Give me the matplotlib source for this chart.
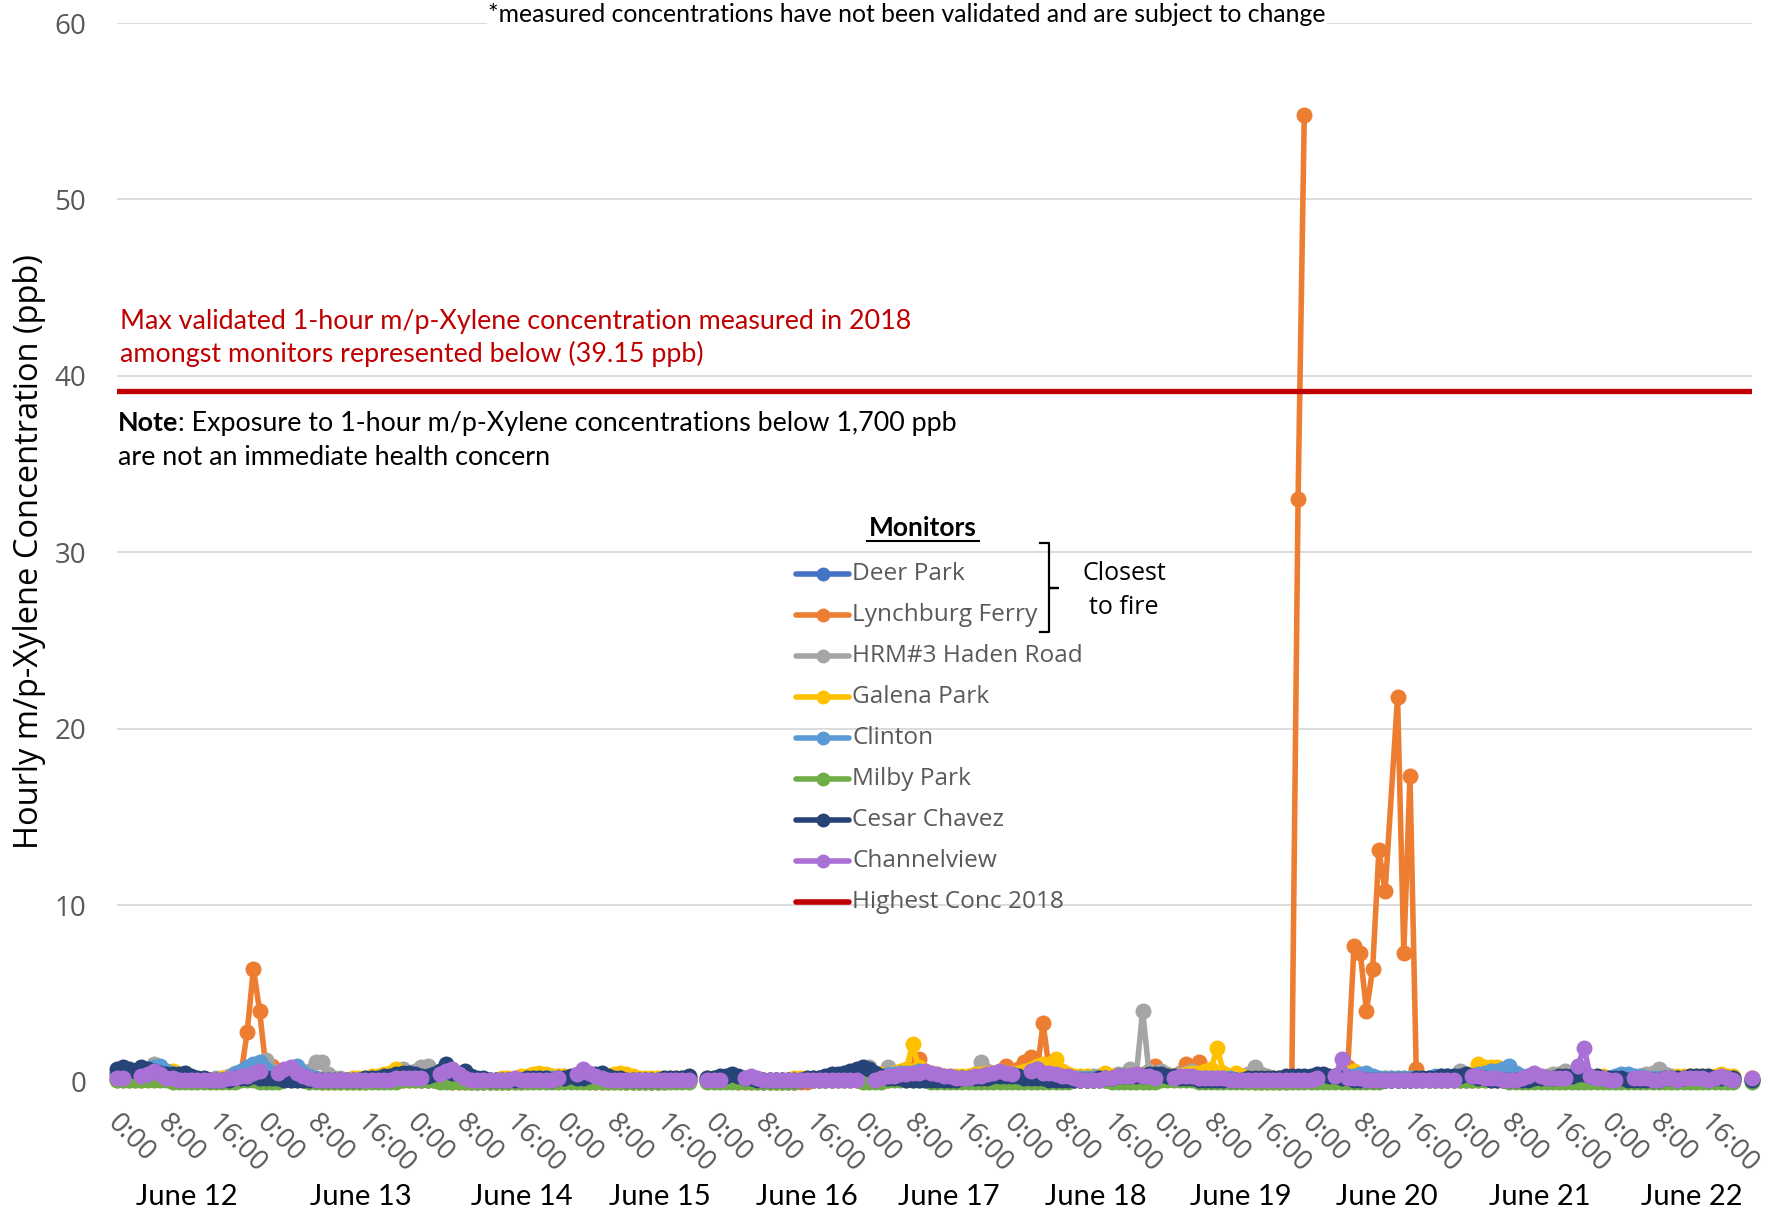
#!/usr/bin/env python3
# Hourly m/p-Xylene, June 12-22 - recreation of the Excel line chart
import numpy as np
import matplotlib
matplotlib.use('Agg')
import matplotlib.pyplot as plt
from matplotlib.lines import Line2D
from matplotlib import transforms

nan = np.nan

# ---- data (hourly, June 12 0:00 ... June 22 23:00, nan = no data) ----
monitors = ['Deer Park', 'Lynchburg Ferry', 'HRM#3 Haden Road', 'Galena Park',
            'Clinton', 'Milby Park', 'Cesar Chavez', 'Channelview']
colors = ['#4472C4', '#ED7D31', '#A5A5A5', '#FFC000',
          '#5B9BD5', '#70AD47', '#264478', '#A970D6']

deer_park = [
    0.4, 0.4, 0.3, 0.3, 0.3, 0.3, 0.3, 0.3, 0.2, 0.2, 0.2, 0.2, 0.1, 0.1, 0.1, 0.1, 0.1, 0.1, 0.1, 0.2, 0.3, 0.4, 0.5, 0.6,
    0.4, 0.3, 0.3, 0.2, 0.2, 0.2, 0.2, 0.1, 0.1, 0.1, 0.1, 0.1, 0.1, 0.1, 0.1, 0.1, 0.1, 0.1, 0.1, 0.1, 0.1, 0.1, 0.2, 0.2,
    0.2, 0.1, 0.1, 0.1, 0.1, 0.1, 0.1, 0.1, 0.1, 0.0, 0.0, 0.0, 0.0, 0.0, 0.0, 0.0, 0.1, 0.1, 0.1, 0.1, 0.1, 0.1, 0.1, 0.1,
    0.1, 0.1, 0.1, 0.1, 0.1, 0.1, 0.1, 0.1, 0.1, 0.1, 0.0, 0.0, 0.0, 0.0, 0.0, 0.0, 0.0, 0.1, 0.1, 0.1, 0.1, nan, nan, 0.1,
    0.1, 0.1, 0.1, 0.1, 0.1, 0.1, 0.1, 0.1, 0.0, 0.0, 0.0, 0.0, 0.0, 0.0, 0.1, 0.1, 0.1, 0.1, 0.1, 0.1, 0.2, 0.2, 0.2, 0.2,
    0.2, 0.2, 0.2, 0.3, 0.3, 0.3, 0.3, 0.3, 0.3, 0.2, 0.2, 0.2, 0.1, 0.1, 0.1, 0.1, 0.1, 0.1, 0.1, 0.2, 0.2, 0.2, 0.2, 0.2,
    0.3, 0.3, 0.4, 0.4, 0.5, 0.4, 0.3, 0.3, 0.2, 0.2, 0.1, 0.1, 0.1, 0.1, 0.1, 0.1, 0.1, 0.1, 0.2, 0.2, 0.2, 0.2, 0.2, 0.2,
    0.2, 0.2, 0.2, 0.2, 0.2, 0.2, 0.2, 0.1, 0.1, 0.1, 0.1, 0.1, 0.1, 0.1, 0.1, 0.1, 0.1, 0.1, 0.1, 0.1, 0.1, 0.1, 0.1, 0.1,
    0.1, 0.1, 0.1, 0.1, 0.2, 0.2, 0.2, 0.2, 0.2, 0.2, 0.2, 0.1, 0.1, 0.1, 0.1, 0.1, 0.1, 0.1, 0.1, 0.1, 0.1, 0.1, 0.1, 0.1,
    0.1, 0.1, 0.1, 0.2, 0.2, 0.2, 0.2, 0.2, 0.2, 0.2, 0.1, 0.1, 0.1, 0.1, 0.1, 0.1, 0.1, 0.1, 0.1, 0.1, 0.1, 0.1, 0.1, 0.1,
    0.1, 0.1, 0.2, 0.2, 0.2, 0.2, 0.2, 0.2, 0.1, 0.1, 0.1, 0.1, 0.1, 0.1, 0.1, 0.1, 0.1, 0.1, 0.1, 0.1, 0.1, nan, nan, 0.1,
]
lynchburg_ferry = [
    0.1, 0.1, 0.1, 0.1, 0.1, 0.2, 0.5, 0.7, 0.5, 0.4, 0.3, 0.2, 0.1, 0.1, 0.1, 0.1, 0.1, 0.1, 0.2, 0.3, 0.4, 2.8, 6.4, 4.0,
    0.8, 0.9, 0.4, 0.3, 0.2, 0.2, 0.1, 0.1, 0.1, 0.0, 0.0, 0.0, 0.0, 0.0, 0.0, 0.0, 0.0, 0.1, 0.1, 0.1, 0.1, 0.1, 0.1, 0.1,
    0.1, 0.1, 0.1, 0.1, 0.1, 0.1, 0.0, 0.0, 0.0, 0.0, 0.0, 0.0, 0.0, 0.0, 0.0, 0.0, 0.0, 0.0, 0.1, 0.1, 0.1, 0.1, 0.1, 0.1,
    0.1, 0.1, 0.1, 0.1, 0.0, 0.0, 0.0, 0.0, 0.0, 0.0, 0.0, 0.0, 0.0, 0.0, 0.0, 0.0, 0.1, 0.1, 0.1, 0.1, 0.1, nan, nan, 0.1,
    0.1, 0.1, 0.1, 0.1, 0.0, 0.0, 0.0, 0.0, 0.0, 0.0, 0.0, 0.0, 0.0, 0.0, 0.0, 0.0, 0.1, 0.1, 0.1, 0.1, 0.1, 0.1, 0.1, 0.1,
    0.1, 0.1, 0.1, 0.1, 0.1, 0.2, 0.3, 0.4, 0.7, 1.3, 0.6, 0.3, 0.2, 0.2, 0.1, 0.1, 0.1, 0.2, 0.2, 0.3, 0.4, 0.5, 0.6, 0.9,
    0.6, 0.7, 1.1, 1.4, 0.5, 3.3, 0.6, 0.4, 0.3, 0.2, 0.2, 0.1, 0.1, 0.1, 0.1, 0.1, 0.2, 0.2, 0.2, 0.2, 0.3, 0.4, 0.6, 0.9,
    0.5, 0.3, 0.3, 0.5, 1.0, 0.6, 1.1, 0.5, 0.3, 0.2, 0.1, 0.1, 0.1, 0.1, 0.1, 0.0, 0.0, 0.0, 0.0, 0.0, 0.0, 0.1, 33.0, 54.8,
    nan, nan, nan, nan, nan, nan, 0.8, 7.7, 7.3, 4.0, 6.4, 13.1, 10.8, nan, 21.8, 7.3, 17.3, 0.7, 0.2, 0.1, 0.1, 0.1, 0.1, 0.1,
    0.1, 0.1, 0.1, 0.1, 0.1, 0.1, 0.1, 0.1, 0.1, 0.1, 0.1, 0.1, 0.1, 0.1, 0.1, 0.1, 0.2, 0.2, 0.2, 0.2, 0.2, 0.1, 0.1, 0.1,
    0.1, 0.1, 0.1, 0.1, 0.1, 0.1, 0.1, 0.1, 0.1, 0.1, 0.1, 0.1, 0.1, 0.1, 0.1, 0.1, 0.1, 0.1, 0.2, 0.2, 0.2, nan, nan, 0.2,
]
hrm3_haden_road = [
    0.3, 0.3, 0.2, 0.3, 0.4, 0.5, 1.0, 0.6, 0.4, 0.3, 0.2, 0.2, 0.2, 0.1, 0.1, 0.1, 0.2, 0.2, 0.3, 0.5, 0.4, 0.5, 0.6, 0.8,
    1.2, 0.6, 0.4, 0.3, 0.3, 0.4, 0.3, 0.6, 1.1, 1.1, 0.4, 0.2, 0.2, 0.1, 0.1, 0.1, 0.1, 0.1, 0.2, 0.2, 0.3, 0.4, 0.7, 0.5,
    0.6, 0.8, 0.9, 0.5, 0.3, 0.3, 0.2, 0.2, 0.2, 0.1, 0.1, 0.1, 0.1, 0.1, 0.1, 0.1, 0.1, 0.2, 0.2, 0.2, 0.2, 0.3, 0.3, 0.3,
    0.3, 0.2, 0.2, 0.2, 0.1, 0.1, 0.1, 0.1, 0.1, 0.1, 0.1, 0.1, 0.1, 0.1, 0.1, 0.1, 0.1, 0.1, 0.1, 0.2, 0.2, nan, nan, 0.2,
    0.2, 0.2, 0.2, 0.2, 0.1, 0.1, 0.1, 0.1, 0.1, 0.1, 0.1, 0.1, 0.1, 0.1, 0.1, 0.1, 0.1, 0.2, 0.2, 0.2, 0.3, 0.4, 0.5, 0.6,
    0.7, 0.8, 0.5, 0.4, 0.8, 0.5, 0.3, 0.3, 0.4, 0.4, 0.3, 0.2, 0.2, 0.1, 0.1, 0.1, 0.2, 0.3, 0.4, 1.1, 0.6, 0.4, 0.3, 0.3,
    0.3, 0.3, 0.3, 0.3, 0.4, 0.4, 0.4, 0.3, 0.3, 0.2, 0.2, 0.2, 0.2, 0.3, 0.3, 0.3, 0.3, 0.4, 0.4, 0.7, 0.4, 4.0, 0.6, 0.4,
    0.6, 0.4, 0.3, 0.4, 0.5, 0.6, 0.4, 0.3, 0.2, 0.2, 0.2, 0.2, 0.3, 0.3, 0.4, 0.8, 0.4, 0.3, 0.2, 0.2, 0.2, 0.1, 0.1, 0.1,
    0.1, 0.1, 0.1, 0.1, 0.1, 0.1, 0.1, 0.1, 0.1, 0.1, 0.1, 0.1, 0.1, 0.1, 0.1, 0.1, 0.1, 0.1, 0.1, 0.1, 0.1, 0.2, 0.2, 0.3,
    0.6, 0.4, 0.3, 0.3, 0.2, 0.2, 0.2, 0.2, 0.2, 0.2, 0.2, 0.2, 0.2, 0.3, 0.3, 0.4, 0.4, 0.6, 0.3, 0.3, 0.2, 0.2, 0.2, 0.2,
    0.2, 0.2, 0.2, 0.2, 0.3, 0.3, 0.4, 0.5, 0.7, 0.4, 0.3, 0.2, 0.2, 0.2, 0.2, 0.2, 0.2, 0.2, 0.2, 0.2, 0.2, nan, nan, 0.1,
]
galena_park = [
    0.3, 0.4, 0.3, 0.3, 0.3, 0.4, 0.5, 0.5, 0.6, 0.6, 0.4, 0.3, 0.2, 0.2, 0.1, 0.1, 0.1, 0.2, 0.2, 0.3, 0.4, 0.3, 0.3, 0.3,
    0.3, 0.2, 0.2, 0.2, 0.2, 0.3, 0.3, 0.2, 0.2, 0.1, 0.1, 0.1, 0.1, 0.1, 0.2, 0.2, 0.2, 0.3, 0.3, 0.4, 0.5, 0.7, 0.4, 0.3,
    0.3, 0.3, 0.2, 0.2, 0.2, 0.2, 0.2, 0.2, 0.1, 0.1, 0.1, 0.1, 0.1, 0.1, 0.2, 0.2, 0.2, 0.3, 0.3, 0.4, 0.5, 0.4, 0.3, 0.3,
    0.3, 0.2, 0.2, 0.2, 0.2, 0.2, 0.3, 0.3, 0.4, 0.5, 0.4, 0.3, 0.2, 0.2, 0.2, 0.2, 0.2, 0.2, 0.2, 0.2, 0.2, nan, nan, 0.2,
    0.2, 0.2, 0.1, 0.1, 0.1, 0.1, 0.1, 0.1, 0.1, 0.1, 0.1, 0.1, 0.1, 0.2, 0.2, 0.2, 0.2, 0.2, 0.2, 0.2, 0.3, 0.3, 0.3, 0.3,
    0.3, 0.3, 0.3, 0.4, 0.4, 0.5, 0.6, 0.7, 2.1, 0.8, 0.5, 0.5, 0.4, 0.3, 0.3, 0.3, 0.3, 0.3, 0.4, 0.4, 0.5, 0.5, 0.6, 0.5,
    0.5, 0.5, 0.6, 0.7, 0.9, 1.0, 1.0, 1.3, 0.6, 0.4, 0.3, 0.3, 0.3, 0.2, 0.2, 0.5, 0.3, 0.3, 0.3, 0.3, 0.3, 0.3, 0.3, 0.3,
    0.3, 0.3, 0.3, 0.3, 0.4, 0.5, 0.5, 0.6, 0.7, 1.9, 0.5, 0.3, 0.5, 0.3, 0.2, 0.2, 0.2, 0.2, 0.2, 0.2, 0.2, 0.2, 0.2, 0.2,
    0.2, 0.2, 0.2, 0.2, 0.3, 0.4, 0.5, 0.6, 0.3, 0.2, 0.2, 0.2, 0.2, 0.2, 0.2, 0.2, 0.2, 0.2, 0.2, 0.2, 0.2, 0.2, 0.2, 0.2,
    0.2, 0.3, 0.4, 1.0, 0.8, 0.8, 0.8, 0.4, 0.3, 0.3, 0.2, 0.2, 0.2, 0.2, 0.2, 0.2, 0.3, 0.3, 0.3, 0.3, 0.3, 0.3, 0.3, 0.3,
    0.2, 0.2, 0.2, 0.2, 0.2, 0.2, 0.2, 0.2, 0.2, 0.2, 0.2, 0.3, 0.3, 0.3, 0.3, 0.3, 0.3, 0.3, 0.4, 0.3, 0.3, nan, nan, 0.2,
]
clinton = [
    0.5, 0.5, 0.5, 0.6, 0.6, 0.7, 0.8, 0.9, 0.6, 0.4, 0.3, 0.2, 0.2, 0.1, 0.1, 0.1, 0.1, 0.1, 0.2, 0.4, 0.6, 0.8, 1.0, 1.1,
    0.7, 0.5, 0.4, 0.6, 0.6, 0.9, 0.5, 0.3, 0.2, 0.1, 0.1, 0.1, 0.1, 0.1, 0.1, 0.1, 0.1, 0.2, 0.2, 0.2, 0.3, 0.3, 0.4, 0.5,
    0.3, 0.3, 0.3, 0.2, 0.2, 0.2, 0.2, 0.1, 0.1, 0.1, 0.1, 0.1, 0.1, 0.1, 0.1, 0.1, 0.1, 0.1, 0.1, 0.1, 0.2, 0.2, 0.2, 0.2,
    0.2, 0.2, 0.2, 0.2, 0.1, 0.1, 0.1, 0.1, 0.1, 0.1, 0.1, 0.1, 0.1, 0.1, 0.1, 0.1, 0.1, 0.1, 0.1, 0.1, 0.1, nan, nan, 0.1,
    0.1, 0.1, 0.1, 0.1, 0.1, 0.1, 0.1, 0.1, 0.1, 0.1, 0.1, 0.1, 0.1, 0.1, 0.1, 0.1, 0.2, 0.2, 0.2, 0.2, 0.3, 0.3, 0.3, 0.3,
    0.3, 0.3, 0.3, 0.3, 0.4, 0.4, 0.5, 0.5, 0.5, 0.6, 0.4, 0.3, 0.2, 0.2, 0.2, 0.2, 0.2, 0.2, 0.2, 0.3, 0.3, 0.3, 0.3, 0.4,
    0.4, 0.3, 0.2, 0.5, 0.7, 0.5, 0.4, 0.3, 0.2, 0.2, 0.2, 0.2, 0.2, 0.2, 0.2, 0.2, 0.2, 0.2, 0.2, 0.2, 0.2, 0.2, 0.2, 0.2,
    0.2, 0.2, 0.2, 0.2, 0.2, 0.2, 0.2, 0.2, 0.2, 0.2, 0.2, 0.2, 0.1, 0.1, 0.1, 0.1, 0.1, 0.1, 0.1, 0.1, 0.1, 0.2, 0.2, 0.2,
    0.2, 0.2, 0.2, 0.2, 0.3, 0.3, 0.3, 0.3, 0.4, 0.5, 0.3, 0.2, 0.2, 0.2, 0.2, 0.2, 0.2, 0.2, 0.2, 0.2, 0.3, 0.3, 0.3, 0.3,
    0.3, 0.3, 0.3, 0.4, 0.5, 0.6, 0.6, 0.7, 0.9, 0.5, 0.3, 0.3, 0.2, 0.2, 0.2, 0.2, 0.2, 0.2, 0.2, 0.2, 0.2, 0.2, 0.2, 0.2,
    0.2, 0.3, 0.4, 0.4, 0.3, 0.3, 0.2, 0.2, 0.2, 0.2, 0.2, 0.2, 0.2, 0.2, 0.2, 0.2, 0.2, 0.2, 0.2, 0.2, 0.2, nan, nan, 0.1,
]
milby_park = [
    0.1, 0.1, 0.1, 0.1, 0.1, 0.1, 0.1, 0.1, 0.1, 0.0, 0.0, 0.0, 0.0, 0.0, 0.0, 0.0, 0.0, 0.0, 0.0, 0.0, 0.1, 0.1, 0.1, 0.0,
    0.0, 0.0, 0.0, 0.1, 0.1, 0.1, 0.1, 0.0, 0.0, 0.0, 0.0, 0.0, 0.0, 0.0, 0.0, 0.0, 0.0, 0.0, 0.0, 0.0, 0.0, 0.0, 0.1, 0.1,
    0.1, 0.1, 0.1, 0.1, 0.0, 0.0, 0.0, 0.0, 0.0, 0.0, 0.0, 0.0, 0.0, 0.0, 0.0, 0.0, 0.0, 0.0, 0.0, 0.0, 0.0, 0.0, 0.0, 0.0,
    0.0, 0.0, 0.0, 0.0, 0.0, 0.0, 0.0, 0.0, 0.0, 0.0, 0.0, 0.0, 0.0, 0.0, 0.0, 0.0, 0.0, 0.0, 0.0, 0.0, 0.0, nan, nan, 0.0,
    0.0, 0.0, 0.0, 0.0, 0.0, 0.0, 0.0, 0.0, 0.0, 0.0, 0.0, 0.0, 0.0, 0.0, 0.1, 0.1, 0.1, 0.1, 0.1, 0.1, 0.1, 0.1, 0.1, 0.1,
    0.0, 0.0, 0.0, 0.0, 0.1, 0.1, 0.1, 0.1, 0.1, 0.1, 0.1, 0.0, 0.0, 0.0, 0.0, 0.0, 0.0, 0.0, 0.0, 0.0, 0.0, 0.0, 0.0, 0.0,
    0.0, 0.0, 0.0, 0.0, 0.0, 0.0, 0.0, 0.0, 0.0, 0.0, 0.1, 0.1, 0.1, 0.1, 0.1, 0.1, 0.0, 0.0, 0.0, 0.0, 0.0, 0.0, 0.0, 0.0,
    0.1, 0.1, 0.1, 0.1, 0.1, 0.1, 0.0, 0.0, 0.0, 0.0, 0.0, 0.0, 0.0, 0.0, 0.0, 0.0, 0.0, 0.0, 0.0, 0.0, 0.0, 0.0, 0.0, 0.0,
    0.0, 0.0, 0.0, 0.0, 0.0, 0.0, 0.0, 0.0, 0.0, 0.0, 0.0, 0.0, 0.1, 0.1, 0.1, 0.1, 0.1, 0.1, 0.1, 0.1, 0.1, 0.1, 0.1, 0.1,
    0.1, 0.1, 0.1, 0.1, 0.1, 0.1, 0.1, 0.1, 0.0, 0.0, 0.0, 0.0, 0.0, 0.0, 0.0, 0.0, 0.0, 0.0, 0.0, 0.0, 0.0, 0.0, 0.0, 0.0,
    0.0, 0.0, 0.0, 0.0, 0.0, 0.0, 0.0, 0.0, 0.0, 0.0, 0.0, 0.0, 0.0, 0.0, 0.0, 0.0, 0.0, 0.0, 0.0, 0.0, 0.0, nan, nan, 0.0,
]
cesar_chavez = [
    0.7, 0.8, 0.7, 0.6, 0.8, 0.7, 0.6, 0.5, 0.4, 0.4, 0.4, 0.5, 0.3, 0.2, 0.2, 0.1, 0.1, 0.1, 0.1, 0.2, 0.2, 0.2, 0.3, 0.2,
    0.2, 0.2, 0.2, 0.1, 0.1, 0.1, 0.1, 0.1, 0.1, 0.1, 0.1, 0.1, 0.1, 0.1, 0.1, 0.1, 0.2, 0.2, 0.2, 0.3, 0.3, 0.4, 0.5, 0.5,
    0.4, 0.3, 0.3, 0.4, 0.6, 1.0, 0.5, 0.4, 0.6, 0.3, 0.2, 0.2, 0.1, 0.1, 0.1, 0.1, 0.1, 0.1, 0.2, 0.2, 0.2, 0.2, 0.1, 0.2,
    0.2, 0.3, 0.2, 0.2, 0.3, 0.4, 0.5, 0.3, 0.2, 0.2, 0.1, 0.1, 0.1, 0.1, 0.1, 0.1, 0.2, 0.2, 0.2, 0.2, 0.3, nan, nan, 0.2,
    0.2, 0.3, 0.3, 0.4, 0.3, 0.2, 0.2, 0.1, 0.1, 0.1, 0.1, 0.1, 0.1, 0.1, 0.1, 0.2, 0.2, 0.2, 0.3, 0.4, 0.4, 0.5, 0.6, 0.7,
    0.8, 0.7, 0.5, 0.3, 0.2, 0.2, 0.2, 0.1, 0.1, 0.1, 0.1, 0.1, 0.1, 0.1, 0.1, 0.1, 0.2, 0.2, 0.2, 0.2, 0.2, 0.3, 0.3, 0.3,
    0.3, 0.3, 0.2, 0.2, 0.2, 0.2, 0.1, 0.1, 0.1, 0.1, 0.1, 0.1, 0.1, 0.1, 0.2, 0.2, 0.2, 0.3, 0.3, 0.3, 0.3, 0.3, 0.4, 0.4,
    0.4, 0.3, 0.3, 0.2, 0.2, 0.2, 0.1, 0.1, 0.1, 0.1, 0.1, 0.1, 0.1, 0.1, 0.2, 0.2, 0.2, 0.2, 0.2, 0.2, 0.3, 0.3, 0.3, 0.3,
    0.3, 0.4, 0.4, 0.3, 0.3, 0.2, 0.2, 0.1, 0.1, 0.1, 0.1, 0.1, 0.1, 0.1, 0.1, 0.1, 0.1, 0.2, 0.2, 0.2, 0.2, 0.3, 0.3, 0.3,
    0.3, 0.4, 0.3, 0.2, 0.2, 0.1, 0.1, 0.1, 0.1, 0.1, 0.1, 0.1, 0.2, 0.2, 0.2, 0.2, 0.3, 0.3, 0.3, 0.4, 0.4, 0.3, 0.3, 0.2,
    0.2, 0.2, 0.2, 0.1, 0.1, 0.1, 0.1, 0.1, 0.1, 0.2, 0.2, 0.2, 0.2, 0.3, 0.3, 0.3, 0.3, 0.2, 0.2, 0.2, 0.2, nan, nan, 0.1,
]
channelview = [
    0.2, 0.2, nan, nan, 0.3, 0.4, 0.6, 0.4, 0.2, 0.2, 0.1, 0.1, 0.1, 0.1, 0.1, 0.1, 0.1, 0.1, 0.2, 0.2, 0.3, 0.3, 0.5, 0.6,
    nan, nan, 0.5, 0.7, 0.8, 0.5, 0.3, 0.2, 0.1, 0.1, 0.1, 0.1, 0.1, 0.1, 0.1, 0.1, 0.1, 0.1, 0.1, 0.1, 0.1, 0.2, 0.2, 0.2,
    0.2, 0.2, nan, nan, 0.4, 0.6, 0.7, 0.4, 0.2, 0.1, 0.1, 0.1, 0.1, 0.1, 0.1, 0.1, 0.2, 0.1, 0.1, 0.1, 0.1, 0.1, 0.1, 0.2,
    nan, nan, 0.4, 0.7, 0.5, 0.3, 0.2, 0.1, 0.1, 0.1, 0.1, 0.1, 0.1, 0.1, 0.1, 0.1, 0.1, 0.1, 0.1, 0.1, 0.1, nan, nan, 0.1,
    0.1, 0.1, nan, nan, nan, 0.2, 0.3, 0.2, 0.1, 0.1, 0.1, 0.1, 0.1, 0.1, 0.1, 0.1, 0.1, 0.1, 0.1, 0.1, 0.1, 0.1, 0.1, 0.1,
    nan, nan, 0.1, 0.2, 0.3, 0.3, 0.4, 0.4, 0.5, 0.5, 0.6, 0.5, 0.4, 0.3, 0.3, 0.2, 0.2, 0.2, 0.3, 0.3, 0.4, 0.5, 0.6, 0.5,
    0.4, nan, nan, 0.6, 0.7, 0.5, 0.5, 0.4, 0.3, 0.3, 0.2, 0.1, 0.1, 0.1, 0.1, 0.2, 0.2, 0.3, 0.3, 0.3, 0.4, 0.3, 0.3, 0.2,
    nan, nan, 0.2, 0.3, 0.3, 0.3, 0.2, 0.2, 0.2, 0.2, 0.2, 0.1, 0.1, 0.1, 0.1, 0.1, 0.1, 0.1, 0.1, 0.1, 0.1, 0.1, 0.1, 0.1,
    0.1, 0.2, nan, nan, 0.3, 1.3, 0.2, 0.2, 0.2, 0.1, 0.1, 0.1, 0.1, 0.1, 0.1, 0.1, 0.1, 0.1, 0.1, 0.1, 0.1, 0.1, 0.1, 0.1,
    nan, nan, 0.3, 0.3, 0.2, 0.2, 0.2, 0.1, 0.1, 0.1, 0.2, 0.3, 0.5, 0.3, 0.2, 0.2, 0.2, 0.2, nan, 0.9, 1.9, 0.3, 0.2, 0.2,
    0.1, 0.1, nan, nan, 0.2, 0.2, 0.2, 0.1, 0.1, 0.2, 0.2, 0.1, 0.2, 0.2, 0.2, 0.2, 0.1, 0.2, 0.3, 0.2, 0.1, nan, nan, 0.2,
]
series_values = [deer_park, lynchburg_ferry, hrm3_haden_road, galena_park,
                 clinton, milby_park, cesar_chavez, channelview]

# hours reported as #N/A (Excel joins the line across them, unlike blank hours)
na_hours = {'Lynchburg Ferry': [205]}

highest_conc_2018 = 39.15

tick_hours = list(range(0, 264, 8))
tick_labels = ['0:00', '8:00', '16:00'] * 11
day_labels = ['June 12', 'June 13', 'June 14', 'June 15', 'June 16', 'June 17',
              'June 18', 'June 19', 'June 20', 'June 21', 'June 22']
day_label_x = [11.3, 39.2, 65.1, 87.4, 111.0, 133.8, 157.5, 180.8, 204.3, 228.8, 253.3]

# ---- figure ----
W, H = 1775, 1217
plt.rcParams['font.family'] = ['Open Sans', 'DejaVu Sans']
CAL = ['Lato', 'DejaVu Sans']
GREY = '#595959'


def fx(x):
    return x / W


def fy(y):
    return 1 - y / H


fig = plt.figure(figsize=(W / 100, H / 100), dpi=100)
ax = fig.add_axes([fx(116.6), fy(1081.5), (1752 - 116.6) / W, (1081.5 - 23) / H])

LW = 4.0
MS = 11.5
for name, vals, c in zip(monitors, series_values, colors):
    y = np.array(vals, dtype=float)
    x = np.arange(len(y))
    keep = np.ones(len(y), dtype=bool)
    keep[na_hours.get(name, [])] = False
    ax.plot(x[keep], y[keep], color=c, lw=LW, marker='o', ms=MS, mew=0,
            solid_joinstyle='round', clip_on=False, zorder=3)

ax.axhline(highest_conc_2018, color='#C00000', lw=3.8, zorder=4)

ax.set_xlim(0, 263)
ax.set_ylim(0, 60)
ax.set_yticks(range(0, 61, 10))
ax.yaxis.grid(True, color='#D9D9D9', lw=1.3)
ax.set_axisbelow(True)
for s in ax.spines.values():
    s.set_visible(False)
ax.tick_params(axis='y', length=0, pad=22, labelsize=20, labelcolor=GREY)
ax.tick_params(axis='x', length=0, pad=20, labelsize=20, labelcolor=GREY)

ax.set_xticks(tick_hours)
ax.set_xticklabels(tick_labels)
shift = transforms.ScaledTranslation(5 / 100, 0, fig.dpi_scale_trans)
for lab in ax.get_xticklabels():
    lab.set_rotation(-45)
    lab.set_ha('left')
    lab.set_va('top')
    lab.set_rotation_mode('anchor')
    lab.set_transform(lab.get_transform() + shift)

for d, xd in zip(day_labels, day_label_x):
    ax.text(xd, (1081.5 - 1197) / (1081.5 - 23), d, transform=ax.get_xaxis_transform(),
            ha='center', va='center', fontsize=21, family=CAL, color='black')

fig.text(fx(30), fy(552), 'Hourly m/p-Xylene Concentration (ppb)', rotation=90,
         ha='center', va='center', fontsize=23.5, color='black')

# ---- annotations ----
fig.text(fx(907), fy(15), '*measured concentrations have not been validated and are subject to change',
         ha='center', va='center', fontsize=17.8, family=CAL, color='black',
         bbox=dict(facecolor='white', edgecolor='none', pad=1))

fig.text(fx(120), fy(338), 'Max validated 1-hour m/p-Xylene concentration measured in 2018\n'
         'amongst monitors represented below (39.15 ppb)',
         ha='left', va='center', fontsize=19.4, family=CAL, color='#C00000', linespacing=1.3)

note_b = fig.text(fx(118), fy(423), 'Note', ha='left', va='center', fontsize=19.4,
                  family=CAL, weight='bold', color='black')
fig.canvas.draw()
bb = note_b.get_window_extent()
fig.text(bb.x1 / W, fy(423), ': Exposure to 1-hour m/p-Xylene concentrations below 1,700 ppb',
         ha='left', va='center', fontsize=19.4, family=CAL, color='black')
fig.text(fx(118), fy(457), 'are not an immediate health concern',
         ha='left', va='center', fontsize=19.4, family=CAL, color='black')

# legend box, drawn by hand like the Excel layout
fig.text(fx(923), fy(528), 'Monitors', ha='center', va='center', fontsize=19,
         family=CAL, weight='bold', color='black')
fig.add_artist(Line2D([fx(867), fx(979)], [fy(541), fy(541)], transform=fig.transFigure,
                      color='black', lw=1.5))
row_y = [574, 615, 656, 697, 738, 779, 820, 861, 902]
for name, c, yy in zip(monitors + ['Highest Conc 2018'], colors + ['#C00000'], row_y):
    fig.add_artist(Line2D([fx(796), fx(849)], [fy(yy), fy(yy)], transform=fig.transFigure,
                          color=c, lw=LW, solid_capstyle='round'))
    if name != 'Highest Conc 2018':
        fig.add_artist(Line2D([fx(822.5)], [fy(yy)], transform=fig.transFigure,
                              color=c, marker='o', ms=10, mew=0))
    fig.text(fx(852), fy(yy), name, ha='left', va='center', fontsize=17.6, color=GREY)

bx = [1040, 1049, 1049, 1058, 1049, 1049, 1040]
by = [543, 543, 588, 588, 588, 632, 632]
fig.add_artist(Line2D([fx(v) for v in bx], [fy(v) for v in by], transform=fig.transFigure,
                      color='black', lw=1.6))
fig.text(fx(1124), fy(573), 'Closest', ha='center', va='center', fontsize=18, color='black')
fig.text(fx(1124), fy(608), 'to fire', ha='center', va='center', fontsize=18, color='black')

fig.savefig('out.png', dpi=100)
